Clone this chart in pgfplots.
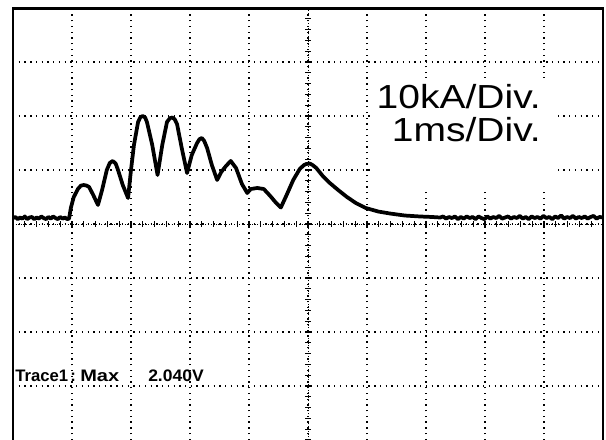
\documentclass[border=0pt]{standalone}
\usepackage{pgfplots}
\pgfplotsset{compat=1.18}
\usepackage{fontspec}
\setmainfont{Liberation Sans}
\usepackage{graphicx}
\begin{document}
\begin{tikzpicture}[x=0.75pt,y=0.75pt]
\useasboundingbox (0,0) rectangle (606,439);
\begin{axis}[
  at={(9.75pt,-0.75pt)}, anchor=south west,
  scale only axis, width=442.5pt, height=324pt,
  xmin=-5, xmax=5, ymin=-40, ymax=40,
  xtick={-4,-3,...,4}, ytick={-30,-20,...,30},
  xticklabels={}, yticklabels={},
  major tick length=0pt,
  grid=major,
  major grid style={black, line width=1pt, dash pattern=on 1pt off 3.3pt},
  axis line style={draw=none},
]
\addplot[black, line width=2.8pt, line join=round] coordinates {
(-5.00,1.1) (-4.96,1.3) (-4.92,0.9) (-4.88,1.2) (-4.84,1.0) (-4.80,1.4)
(-4.76,0.9) (-4.72,1.2) (-4.68,1.3) (-4.64,0.9) (-4.60,1.2) (-4.56,1.0)
(-4.52,1.4) (-4.48,1.1) (-4.44,0.9) (-4.40,1.3) (-4.36,1.0) (-4.32,1.4)
(-4.28,1.1) (-4.24,0.9) (-4.20,1.3) (-4.16,1.0) (-4.12,1.2) (-4.08,0.9) (-4.05,1.0)
(-4.02,2.96) (-3.97,5.00) (-3.90,6.48) (-3.85,7.10) (-3.80,7.22) (-3.75,7.10)
(-3.71,6.85) (-3.64,5.37) (-3.56,3.52) (-3.49,6.30) (-3.41,10.00) (-3.36,11.30)
(-3.31,11.67) (-3.26,11.20) (-3.22,10.00) (-3.14,7.22) (-3.05,4.81)
(-3.00,10.00) (-2.95,14.63) (-2.88,18.89) (-2.84,19.80) (-2.80,20.00) (-2.76,19.70)
(-2.73,18.89) (-2.64,14.63) (-2.55,9.07) (-2.47,14.63) (-2.39,18.89) (-2.34,19.60)
(-2.30,19.72) (-2.26,19.40) (-2.22,18.52) (-2.14,14.07) (-2.05,9.44)
(-1.97,12.78) (-1.88,15.00) (-1.84,15.70) (-1.80,15.93) (-1.76,15.40) (-1.71,14.07)
(-1.63,10.93) (-1.54,8.15) (-1.47,9.63) (-1.39,10.74) (-1.31,11.67)
(-1.22,10.37) (-1.12,7.41) (-1.03,5.74) (-0.97,6.48) (-0.86,6.67)
(-0.75,6.48) (-0.64,5.19) (-0.54,3.89) (-0.46,3.06) (-0.37,5.19)
(-0.25,8.15) (-0.14,10.19) (-0.07,10.90) (-0.03,11.11) (0.03,11.20) (0.08,10.90)
(0.14,10.37) (0.25,8.89) (0.37,7.59) (0.51,6.30) (0.66,5.00)
(0.81,3.89) (0.98,2.96) (1.19,2.31) (1.39,1.94) (1.64,1.57) (1.90,1.39)
(2.10,1.3) (2.24,1.20) (2.29,1.4) (2.34,1.0) (2.39,1.3) (2.44,1.1)
(2.49,1.4) (2.54,0.9) (2.59,1.3) (2.64,1.0) (2.69,1.4) (2.74,1.1)
(2.79,1.3) (2.84,0.9) (2.89,1.4) (2.94,1.1) (2.99,0.9) (3.04,1.4)
(3.09,1.0) (3.14,1.3) (3.19,1.1) (3.24,1.5) (3.29,1.0) (3.34,1.2)
(3.39,1.4) (3.44,1.0) (3.49,1.3) (3.54,1.1) (3.59,1.5) (3.64,1.0)
(3.69,1.3) (3.74,0.9) (3.79,1.4) (3.84,1.1) (3.89,1.3) (3.94,1.0)
(3.99,1.5) (4.04,1.1) (4.09,1.3) (4.14,0.9) (4.19,1.4) (4.24,1.1)
(4.29,1.6) (4.34,1.0) (4.39,1.3) (4.44,1.1) (4.49,1.5) (4.54,1.0)
(4.59,1.3) (4.64,1.1) (4.69,1.4) (4.74,1.0) (4.79,1.3) (4.84,1.5)
(4.89,1.0) (4.94,1.3) (5.00,1.2)
};
\end{axis}
% centre graticule with fine divisions
\draw[line width=0.6pt, dash pattern=on 0.75pt off 1.2pt] (308,-1) -- (308,431);
\draw[line width=0.6pt, dash pattern=on 0.75pt off 1.2pt] (13,215) -- (603,215);
\foreach \k in {-20,...,20} \draw[line width=0.8pt] (305,{215+10.8*\k}) -- (311,{215+10.8*\k});
\foreach \k in {-25,...,25} \draw[line width=0.8pt] ({308+11.8*\k},212) -- ({308+11.8*\k},218);
% white box behind the scale text
\fill[white] (370,249) rectangle (558,361);
\node[anchor=base east, inner sep=0] at (541,330.7) {\fontsize{25}{30}\selectfont\scalebox{1.17}[1]{10kA/Div.}};
\node[anchor=base east, inner sep=0] at (541,297.3) {\fontsize{25}{30}\selectfont\scalebox{1.17}[1]{1ms/Div.}};
% trace readout
\node[anchor=base west, inner sep=0] at (15,57.5) {\fontsize{12.5}{14}\selectfont\bfseries Trace1};
\node[anchor=base west, inner sep=0] at (70,57.5) {\fontsize{12.5}{14}\selectfont\bfseries :};
\node[anchor=base west, inner sep=0] at (80,57.5) {\fontsize{12.5}{14}\selectfont\bfseries\scalebox{1.2}[1]{Max}};
\node[anchor=base west, inner sep=0] at (148,57.5) {\fontsize{12.5}{14}\selectfont\bfseries\scalebox{1.05}[1]{2.040V}};
% frame
\draw[line width=1.6pt] (13,-2) -- (13,430.5) -- (603,430.5) -- (603,-2);
\end{tikzpicture}
\end{document}
